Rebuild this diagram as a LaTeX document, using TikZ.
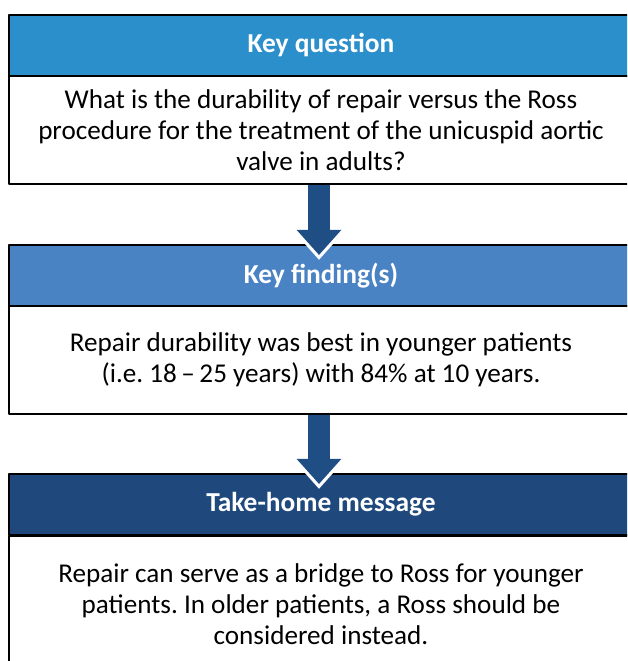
\documentclass[tikz,border=0pt]{standalone}
\usepackage{fontspec}
\setmainfont{Carlito}
\usetikzlibrary{arrows.meta}
\definecolor{qblue}{HTML}{2B8FCB}
\definecolor{fblue}{HTML}{4A83C4}
\definecolor{mblue}{HTML}{1F497D}
\definecolor{arrblue}{HTML}{1F4E85}
\frenchspacing
\begin{document}
\begin{tikzpicture}[x=0.025cm,y=-0.025cm, line join=round,
	head/.style={draw=black, line width=1.4pt, minimum width=624*0.025cm, minimum height=61*0.025cm, inner sep=0pt, text=white, font=\fontsize{19.5}{22}\selectfont\bfseries, anchor=north west},
	body/.style={draw=black, line width=1.4pt, minimum width=624*0.025cm, inner sep=0pt, align=center, font=\fontsize{19.3}{22}\selectfont, anchor=north west},
	bigarrow/.style={draw=arrblue, line width=15.6pt, -{Triangle[width=30.6pt, length=17.8pt]}},
	whitearrow/.style={draw=white, line width=15.6pt, -{Triangle[width=35pt, length=20.5pt]}}]
	\def\xl{8} \def\xm{319}
	\useasboundingbox (0,0) rectangle (627,661);
	\clip (0,0) rectangle (627,661);
	% question
	\node[head, fill=qblue] (qhead) at (\xl,14) {Key question};
	\node[body, minimum height=108*0.025cm] (qbody) at (\xl,75) {What is the durability of repair versus the Ross\\procedure for the treatment of the unicuspid aortic\\valve in adults?};
	% findings
	\node[head, fill=fblue] (fhead) at (\xl,244) {Key finding(s)};
	\node[body, minimum height=108*0.025cm] (fbody) at (\xl,305) {Repair durability was best in younger patients\\(i.e. 18\,–\,25 years) with 84\% at 10 years.};
	% message
	\node[head, fill=mblue] (mhead) at (\xl,473) {Take-home message};
	\node[body, minimum height=136*0.025cm] (mbody) at (\xl,535) {Repair can serve as a bridge to Ross for younger\\patients. In older patients, a Ross should be\\considered instead.};
	% arrows
	\coordinate (tip1) at (\xm,255);
	\coordinate (tip2) at (\xm,484);
	\draw[whitearrow] (qbody.south-|tip1) -- ([yshift=-3.5pt]tip1);
	\draw[bigarrow] (qbody.south-|tip1) -- (tip1);
	\draw[whitearrow] (fbody.south-|tip2) -- ([yshift=-3.5pt]tip2);
	\draw[bigarrow] (fbody.south-|tip2) -- (tip2);
\end{tikzpicture}
\end{document}
